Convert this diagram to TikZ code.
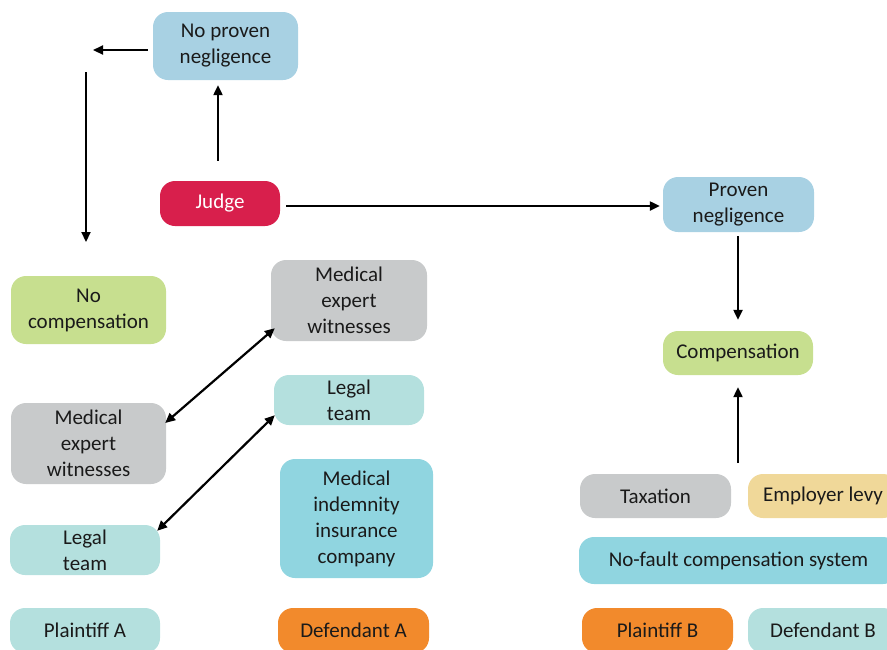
\documentclass[tikz,border=0pt]{standalone}
\usepackage{fontspec}
\setmainfont{Carlito}
\usetikzlibrary{arrows.meta}
\definecolor{cblue}{HTML}{A8D1E3}
\definecolor{cjudge}{HTML}{D81F4C}
\definecolor{cgreen}{HTML}{C7DF8F}
\definecolor{cgray}{HTML}{C8CACB}
\definecolor{cteal}{HTML}{B4E0DE}
\definecolor{cteal2}{HTML}{90D5E0}
\definecolor{corange}{HTML}{F28A2C}
\definecolor{ctan}{HTML}{F0D899}
\definecolor{ctext}{HTML}{1A1A1A}
\begin{document}
\begin{tikzpicture}[x=1pt,y=-1pt,
 box/.style={rounded corners=15pt, inner sep=0pt, align=center, font=\fontsize{21}{26}\selectfont, text=ctext},
 arr/.style={line width=2.2pt, -{Triangle[length=10pt,width=9pt]}},
 darr/.style={line width=2.2pt, {Triangle[length=10pt,width=9pt]}-{Triangle[length=10pt,width=9pt]}}]
\useasboundingbox (0,0) rectangle (887,649);
\clip (0,0) rectangle (887,649);
% nodes
\node[box, fill=cblue, minimum width=145pt, minimum height=68pt] (npn) at (225.5,46) {No proven\\negligence};
\node[box, fill=cjudge, text=white, minimum width=120pt, minimum height=45pt] (judge) at (220,203.5) {Judge};
\node[box, fill=cblue, minimum width=151pt, minimum height=55pt] (pn) at (738.5,204.5) {Proven\\negligence};
\node[box, fill=cgreen, minimum width=155pt, minimum height=68pt] (nc) at (88.5,310) {No\\compensation};
\node[box, fill=cgray, minimum width=156pt, minimum height=81pt] (mew2) at (349,300.5) {Medical\\expert\\witnesses};
\node[box, fill=cgreen, minimum width=150pt, minimum height=44pt] (comp) at (738,353) {Compensation};
\node[box, fill=cteal, minimum width=150pt, minimum height=50pt] (lt2) at (349,400) {Legal\\team};
\node[box, fill=cgray, minimum width=155pt, minimum height=81pt] (mew1) at (88.5,443.5) {Medical\\expert\\witnesses};
\node[box, fill=cteal, minimum width=150pt, minimum height=50pt] (lt1) at (85,550) {Legal\\team};
\node[box, fill=cteal2, minimum width=153pt, minimum height=119pt] (mic) at (356.5,518.5) {Medical\\indemnity\\insurance\\company};
\node[box, fill=cteal, minimum width=150pt, minimum height=45pt] (pa) at (85,630.5) {Plaintiff A};
\node[box, fill=corange, minimum width=151pt, minimum height=45pt] (da) at (353.5,630.5) {Defendant A};
\node[box, fill=cgray, minimum width=151pt, minimum height=44pt] (tax) at (655.5,496) {Taxation};
\node[box, fill=ctan, minimum width=150pt, minimum height=44pt] (el) at (823,496) {Employer levy};
\node[box, fill=cteal2, minimum width=319pt, minimum height=47pt] (nf) at (738.5,560.5) {No-fault compensation system};
\node[box, fill=corange, minimum width=151pt, minimum height=45pt] (pb) at (657.5,630.5) {Plaintiff B};
\node[box, fill=cteal, minimum width=150pt, minimum height=45pt] (db) at (823,630.5) {Defendant B};
% free ends
\coordinate (nl) at (93,50);
\coordinate (vt) at (86,72);
\coordinate (vb) at (86,242);
\coordinate (fund) at (738,463);
% connectors
\draw[arr] ([shift={(-2,-20)}]judge.north) -- ([shift={(-7.5,5)}]npn.south);
\draw[arr] ([shift={(-5,4)}]npn.west) -- (nl);
\draw[arr] (vt) -- (vb);
\draw[arr] ([shift={(6,2.5)}]judge.east) -- ([shift={(-3,1.5)}]pn.west);
\draw[arr] ([shift={(-0.5,4)}]pn.south) -- ([shift={(0,-11)}]comp.north);
\draw[arr] (fund) -- ([shift={(0,12)}]comp.south);
\draw[darr] ([shift={(-1,-20.5)}]mew1.east) -- ([shift={(4,-13)}]mew2.south west);
\draw[darr] ([shift={(-3,6)}]lt1.north east) -- ([shift={(1,-10)}]lt2.south west);
\end{tikzpicture}
\end{document}
